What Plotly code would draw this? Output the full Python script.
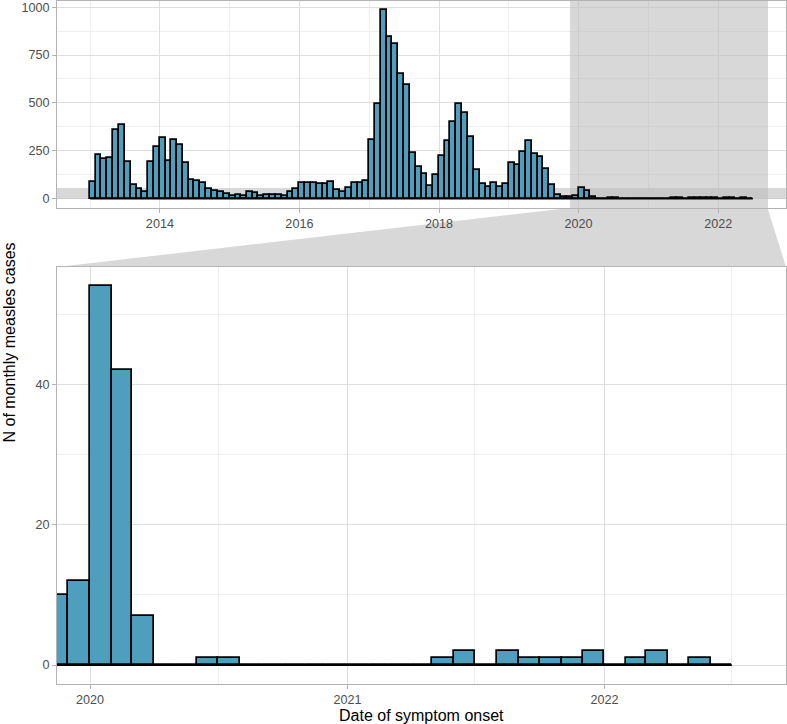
import pandas as pd
import plotly.graph_objects as go

# ---------------- data (monthly measles cases, Jan 2013 - Jun 2022) ----------------
FIRST_MONTH = "2013-01-01"
cases_2013 = [86, 226, 209, 214, 359, 386, 193, 72, 52, 34, 191, 267]
cases_2014 = [317, 198, 307, 278, 184, 97, 91, 79, 48, 41, 34, 22]
cases_2015 = [14, 17, 14, 34, 31, 14, 17, 17, 17, 14, 34, 48]
cases_2016 = [81, 83, 79, 78, 78, 88, 43, 36, 53, 83, 83, 93]
cases_2017 = [305, 495, 983, 845, 810, 653, 591, 238, 166, 128, 66, 122]
cases_2018 = [221, 302, 400, 495, 447, 321, 147, 78, 60, 81, 60, 78]
cases_2019 = [186, 176, 241, 302, 233, 216, 152, 72, 19, 9, 10, 12]
cases_2020 = [54, 42, 7, 0, 0, 1, 1, 0, 0, 0, 0, 0]
cases_2021 = [0, 0, 0, 0, 1, 2, 0, 2, 1, 1, 1, 2]
cases_2022 = [0, 1, 2, 0, 1, 0]

cases = (cases_2013 + cases_2014 + cases_2015 + cases_2016 + cases_2017 +
         cases_2018 + cases_2019 + cases_2020 + cases_2021 + cases_2022)

ZOOM_X = ["2019-11-15", "2022-09-16"]   # zoomed date window
TOP_Y_TICKS = [0, 250, 500, 750, 1000]
BOT_Y_TICKS = [0, 20, 40]

X_TITLE = "Date of symptom onset"
Y_TITLE = "N of monthly measles cases"

# ---------------- derived positions ----------------
starts = pd.date_range(FIRST_MONTH, periods=len(cases), freq="MS")
ends = starts + pd.offsets.MonthBegin(1)
mids = starts + (ends - starts) / 2
widths = [(e - s).total_seconds() * 1000 for s, e in zip(starts, ends)]

span = ends[-1] - starts[0]
r0 = starts[0] - 0.05 * span
r1 = ends[-1] + 0.05 * span
top_ymax = max(cases)
top_range = [-0.05 * top_ymax, 1.05 * top_ymax]

z0, z1 = pd.Timestamp(ZOOM_X[0]), pd.Timestamp(ZOOM_X[1])
zoom_vals = [c for s, e, c in zip(starts, ends, cases) if e > z0 and s < z1]
zoom_ymax = max(zoom_vals)
bot_range = [-0.05 * zoom_ymax, 1.05 * zoom_ymax]

W, H = 787, 724
ML, MR, MT, MB = 57, 1, 1, 40
plot_h = H - MT - MB
top_dom = [1 - 207 / plot_h, 1]
bot_dom = [0, 1 - 266 / plot_h]

FILL = "#4F9EBD"
GRID = "#DEDEDE"
MINOR = "#EEEEEE"
BORDER = "#B3B3B3"
BAND = "rgba(190,190,190,0.6)"
FONT = "Liberation Sans, Arial, sans-serif"
TICK_SIZE = 12.6
TITLE_SIZE = 16

fig = go.Figure()

# zoom indicator bands on the overview panel, as bars drawn before the data bars
fig.add_trace(go.Bar(
    x=[z0 + (z1 - z0) / 2], y=[top_range[1] - top_range[0]], base=[top_range[0]],
    width=[(z1 - z0).total_seconds() * 1000], xaxis="x", yaxis="y",
    marker=dict(color=BAND, line=dict(width=0)), showlegend=False, hoverinfo="skip"))
fig.add_trace(go.Bar(
    x=[r0 + (r1 - r0) / 2], y=[bot_range[1] - bot_range[0]], base=[bot_range[0]],
    width=[(r1 - r0).total_seconds() * 1000], xaxis="x", yaxis="y",
    marker=dict(color=BAND, line=dict(width=0)), showlegend=False, hoverinfo="skip"))

for xa, ya in [("x", "y"), ("x2", "y2")]:
    fig.add_trace(go.Bar(
        x=mids, y=cases, width=widths, xaxis=xa, yaxis=ya,
        marker=dict(color=FILL, line=dict(color="black", width=1.7)),
        showlegend=False, hoverinfo="x+y"))
    fig.add_trace(go.Scatter(
        x=[starts[0], ends[-1]], y=[0, 0], xaxis=xa, yaxis=ya, mode="lines",
        line=dict(color="black", width=1.7), showlegend=False, hoverinfo="skip"))

common_x = dict(type="date", tickformat="%Y", showgrid=True, gridcolor=GRID, gridwidth=1,
                showline=True, mirror=True, linecolor=BORDER, linewidth=1,
                ticks="outside", ticklen=4, tickcolor=BORDER, zeroline=False, automargin=False,
                tickfont=dict(size=TICK_SIZE, color="#4D4D4D", family=FONT))
common_y = dict(showgrid=True, gridcolor=GRID, gridwidth=1, zeroline=False, automargin=False,
                showline=True, mirror=True, linecolor=BORDER, linewidth=1,
                ticks="outside", ticklen=4, tickcolor=BORDER,
                tickfont=dict(size=TICK_SIZE, color="#4D4D4D", family=FONT))

fig.update_layout(
    width=W, height=H,
    margin=dict(l=ML, r=MR, t=MT, b=MB),
    paper_bgcolor="white", plot_bgcolor="white",
    barmode="overlay", bargap=0,
    font=dict(family=FONT),
    xaxis=dict(common_x, domain=[0, 1], anchor="y", range=[r0, r1],
               tick0="2014-01-01", dtick="M24",
               minor=dict(showgrid=True, gridcolor=MINOR, gridwidth=0.6,
                          tick0="2013-01-01", dtick="M12")),
    yaxis=dict(common_y, domain=top_dom, anchor="x", range=top_range,
               tickvals=TOP_Y_TICKS,
               minor=dict(showgrid=True, gridcolor=MINOR, gridwidth=0.6,
                          tick0=0, dtick=TOP_Y_TICKS[1] / 2)),
    xaxis2=dict(common_x, domain=[0, 1], anchor="y2", range=[z0, z1],
                tick0="2020-01-01", dtick="M12",
                minor=dict(showgrid=True, gridcolor=MINOR, gridwidth=0.6,
                           tick0="2020-01-01", dtick="M6")),
    yaxis2=dict(common_y, domain=bot_dom, anchor="x2", range=bot_range,
                tickvals=BOT_Y_TICKS,
                minor=dict(showgrid=True, gridcolor=MINOR, gridwidth=0.6,
                           tick0=0, dtick=BOT_Y_TICKS[1] / 2)),
)

# connecting trapezoid between panels
pa = (z0 - r0) / (r1 - r0)
pb = (z1 - r0) / (r1 - r0)
yt, yb = top_dom[0], bot_dom[1]
fig.add_shape(type="path", xref="paper", yref="paper",
              path=f"M {pa},{yt} L {pb},{yt} L 1,{yb} L 0,{yb} Z",
              fillcolor=BAND, line=dict(width=0), layer="below")

# axis titles
fig.add_annotation(text=X_TITLE, xref="paper", yref="paper", x=0.5,
                   y=-(715 - (H - MB)) / plot_h, yanchor="middle", showarrow=False,
                   font=dict(size=TITLE_SIZE, color="black", family=FONT))
fig.add_annotation(text=Y_TITLE, xref="paper", yref="paper", x=-(ML - 9) / (W - ML - MR),
                   y=0.5, xanchor="center", yanchor="middle", textangle=-90, showarrow=False,
                   font=dict(size=TITLE_SIZE, color="black", family=FONT))

fig.write_html("out.html", config={"displayModeBar": False},
               post_script="document.body.style.margin='0';document.body.style.overflow='hidden';")
